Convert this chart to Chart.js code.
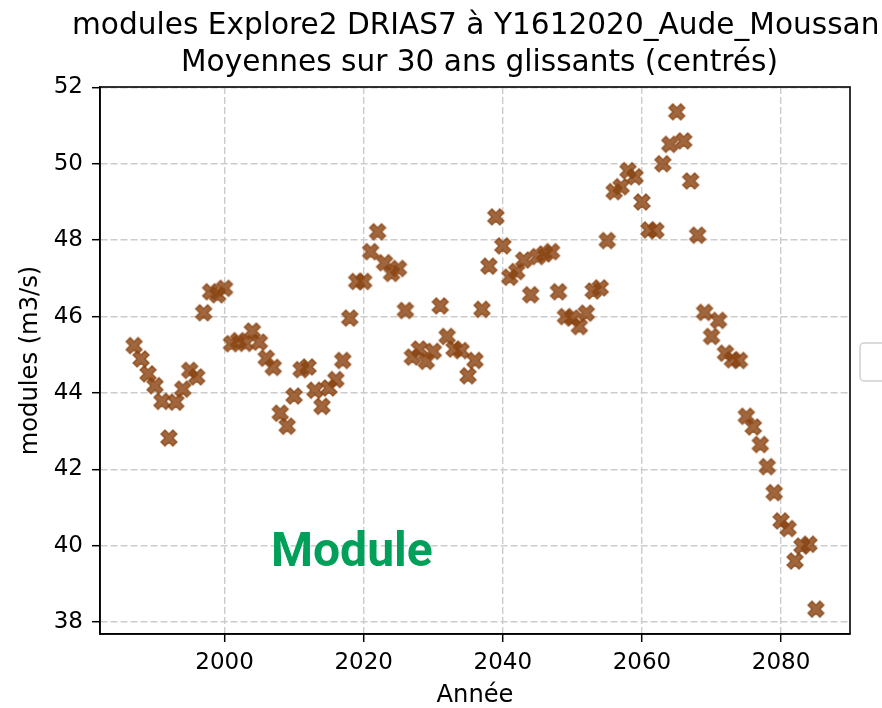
<!DOCTYPE html>
<html>
<head>
<meta charset="utf-8">
<script src="https://cdn.jsdelivr.net/npm/chart.js@4.4.0/dist/chart.umd.min.js"></script>
<style>
  html, body { margin: 0; padding: 0; background: #fff; }
  canvas { display: block; }
</style>
</head>
<body>
<canvas id="chart" width="882" height="708"></canvas>
<script>
const years = [
  1987, 1988, 1989, 1990, 1991, 1992, 1993, 1994, 1995, 1996,
  1997, 1998, 1999, 2000, 2001, 2002, 2003, 2004, 2005, 2006,
  2007, 2008, 2009, 2010, 2011, 2012, 2013, 2014, 2015, 2016,
  2017, 2018, 2019, 2020, 2021, 2022, 2023, 2024, 2025, 2026,
  2027, 2028, 2029, 2030, 2031, 2032, 2033, 2034, 2035, 2036,
  2037, 2038, 2039, 2040, 2041, 2042, 2043, 2044, 2045, 2046,
  2047, 2048, 2049, 2050, 2051, 2052, 2053, 2054, 2055, 2056,
  2057, 2058, 2059, 2060, 2061, 2062, 2063, 2064, 2065, 2066,
  2067, 2068, 2069, 2070, 2071, 2072, 2073, 2074, 2075, 2076,
  2077, 2078, 2079, 2080, 2081, 2082, 2083, 2084, 2085
];
const modules = [
  45.24, 44.89, 44.50, 44.19, 43.78, 42.82, 43.76, 44.10, 44.59, 44.42,
  46.10, 46.65, 46.57, 46.74, 45.29, 45.37, 45.30, 45.62, 45.33, 44.91,
  44.67, 43.47, 43.13, 43.92, 44.61, 44.68, 44.07, 43.65, 44.13, 44.35,
  44.85, 45.96, 46.92, 46.92, 47.70, 48.22, 47.41, 47.13, 47.26, 46.16,
  44.94, 45.15, 44.83, 45.09, 46.28, 45.48, 45.15, 45.11, 44.45, 44.85,
  46.19, 47.32, 48.61, 47.85, 47.03, 47.18, 47.48, 46.57, 47.57, 47.64,
  47.70, 46.65, 46.00, 45.96, 45.74, 46.09, 46.67, 46.75, 47.99, 49.27,
  49.40, 49.82, 49.66, 49.00, 48.27, 48.25, 50.00, 50.51, 51.36, 50.60,
  49.55, 48.13, 46.11, 45.48, 45.90, 45.04, 44.87, 44.85, 43.39, 43.11,
  42.65, 42.07, 41.39, 40.65, 40.45, 39.60, 39.99, 40.04, 38.34
];
const xTicks = [2000, 2020, 2040, 2060, 2080];
const yTicks = [38, 40, 42, 44, 46, 48, 50, 52];
const titleLines = ['modules Explore2 DRIAS7 à Y1612020_Aude_Moussan', 'Moyennes sur 30 ans glissants (centrés)'];
const xLabel = 'Année';
const yLabel = 'modules (m3/s)';
const tagText = 'Module';

const FONT = 'DejaVu Sans';
Chart.defaults.font.family = FONT;

// 5% margins like matplotlib autoscale
const xPad = (Math.max(...years) - Math.min(...years)) * 0.05;
const yPad = (Math.max(...modules) - Math.min(...modules)) * 0.05;

// filled "X" marker
function makeMarker() {
  const n = 22, u = 2.8;
  const c = document.createElement('canvas');
  c.width = n; c.height = n;
  const ctx = c.getContext('2d');
  const plus = [[-1,-3],[1,-3],[1,-1],[3,-1],[3,1],[1,1],[1,3],[-1,3],[-1,1],[-3,1],[-3,-1],[-1,-1]];
  ctx.beginPath();
  plus.forEach(([x, y], i) => {
    const px = n / 2 + (x - y) / Math.SQRT2 * u;
    const py = n / 2 + (x + y) / Math.SQRT2 * u;
    if (i === 0) ctx.moveTo(px, py); else ctx.lineTo(px, py);
  });
  ctx.closePath();
  ctx.fillStyle = 'rgba(139,69,19,0.82)';
  ctx.fill();
  ctx.lineWidth = 1.5;
  ctx.strokeStyle = 'rgba(139,69,19,0.8)';
  ctx.stroke();
  return c;
}

const decor = {
  id: 'decor',
  afterDraw(chart) {
    const { ctx, chartArea: a } = chart;
    ctx.save();
    ctx.strokeStyle = '#000';
    ctx.lineWidth = 1.6;
    ctx.strokeRect(a.left, a.top, a.right - a.left, a.bottom - a.top);

    ctx.fillStyle = '#000';
    ctx.font = '29.6px "' + FONT + '"';
    ctx.textBaseline = 'alphabetic';
    ctx.textAlign = 'left';
    ctx.fillText(titleLines[0], 72, 34);
    ctx.textAlign = 'center';
    ctx.fillText(titleLines[1], 479.5, 71);

    ctx.fillStyle = 'rgb(0,160,90)';
    ctx.font = 'bold 48px Roboto';
    ctx.textAlign = 'left';
    ctx.fillText(tagText, 271, 566);

    // legend frame cut by the right edge
    ctx.strokeStyle = '#d0d0d0';
    ctx.lineWidth = 1.5;
    ctx.beginPath();
    ctx.roundRect(860, 343, 60, 38, 4);
    ctx.stroke();
    ctx.restore();
  }
};

const tickFont = { family: FONT, size: 23 };
const labelFont = { family: FONT, size: 24.2, lineHeight: 1 };
const gridOpts = { color: '#cccccc', lineWidth: 1.4, tickColor: '#000', tickLength: 8, tickWidth: 1.5, tickBorderDash: [] };

new Chart(document.getElementById('chart'), {
  type: 'scatter',
  data: {
    datasets: [{
      label: tagText,
      data: years.map((y, i) => ({ x: y, y: modules[i] })),
      pointStyle: makeMarker(),
      pointRadius: 8,
      pointHoverRadius: 8
    }]
  },
  options: {
    responsive: false,
    animation: false,
    devicePixelRatio: 1,
    layout: { padding: { left: 0, right: 32, top: 87, bottom: 0 } },
    plugins: { legend: { display: false }, title: { display: false }, tooltip: { enabled: false } },
    scales: {
      x: {
        type: 'linear',
        min: Math.min(...years) - xPad,
        max: Math.max(...years) + xPad,
        afterFit: s => { s.height = 74; },
        afterBuildTicks: s => { s.ticks = xTicks.map(v => ({ value: v })); },
        grid: gridOpts,
        border: { display: true, color: '#000', width: 1.6, dash: [7, 3] },
        ticks: { color: '#000', font: tickFont, padding: 7, maxRotation: 0, autoSkip: false, callback: v => String(v) },
        title: { display: true, text: xLabel, color: '#000', font: labelFont, padding: 0 }
      },
      y: {
        type: 'linear',
        min: Math.min(...modules) - yPad,
        max: Math.max(...modules) + yPad,
        afterFit: s => { s.width = 100; },
        afterBuildTicks: s => { s.ticks = yTicks.map(v => ({ value: v })); },
        grid: gridOpts,
        border: { display: true, color: '#000', width: 1.6, dash: [7, 3] },
        ticks: { color: '#000', font: tickFont, padding: 9, autoSkip: false, callback: v => String(v) },
        title: { display: true, text: yLabel, color: '#000', font: labelFont, padding: { top: 19, bottom: 0 } }
      }
    }
  },
  plugins: [decor]
});
</script>
</body>
</html>
